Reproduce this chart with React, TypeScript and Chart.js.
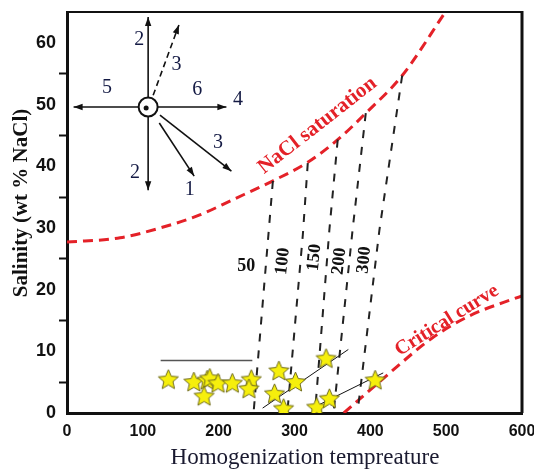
import React, { useEffect, useRef } from 'react';
import { Chart, registerables } from 'chart.js';
Chart.register(...registerables);

// Fluid inclusion data: homogenization temperature (°C) vs salinity (wt % NaCl)
const starT = [133.6, 167.3, 184.8, 188.3, 199.2, 218, 180.8, 243, 240, 279.4, 301.3, 273.7, 285.6, 341.7, 329.3, 346, 406.4];
const starS = [5.5, 5.1, 5.4, 5.7, 4.9, 4.9, 2.8, 5.5, 4.0, 6.9, 5.1, 3.2, 0.8, 8.9, 1.0, 2.4, 5.4];

// NaCl saturation curve
const naclT = [0, 70, 123, 175, 219, 271, 317, 357, 394, 442, 499];
const naclS = [27.7, 28.4, 30, 32.1, 34.6, 37.6, 40.6, 44.3, 48.6, 54.7, 65];

// Critical curve
const critT = [365, 420, 482, 530, 600];
const critS = [0, 5.9, 12.2, 15.7, 19];

// Isochores (bar)
const iso50T = [271.5, 246];
const iso50S = [37.6, 0];
const iso100T = [317.5, 311, 290.5];
const iso100S = [40.5, 28.9, 0];
const iso150T = [357, 346, 327];
const iso150S = [44.3, 29.7, 0];
const iso200T = [394, 376.6, 351.5];
const iso200S = [48.6, 29.7, 0];
const iso300T = [442, 412, 383];
const iso300S = [54.7, 29.7, 0];
const isoLabels = ['50', '100', '150', '200', '300'];
const isoLabelT = [236.5, 284.6, 326.3, 359.1, 392];
const isoLabelS = [23.8, 24.6, 25.2, 24.6, 24.8];
const isoLabelRot = [0, -84, -84, -84, -84];

// Horizontal reference line and trend lines
const hLineT = [123.5, 244.4];
const hLineS = [8.5, 8.5];
const trend1T = [258, 371];
const trend1S = [0.8, 10.3];
const trend2T = [322, 417];
const trend2S = [0.7, 6.5];

// Inset rose diagram (data coordinates)
const roseCenter = [107, 49.6];
const arrowX0 = [107, 107, 107, 107, 113.6, 121.7, 122.6];
const arrowY0 = [49.6, 49.6, 49.6, 49.6, 51.5, 47, 48.3];
const arrowX1 = [107, 107, 8.7, 210.2, 147.6, 167.7, 216.8];
const arrowY1 = [64.2, 36.1, 49.6, 49.6, 62.9, 38.4, 39.2];
const arrowDashed = [false, false, false, false, true, false, false];
const roseLabels = ['2', '3', '5', '6', '4', '3', '2', '1'];
const roseLabelT = [95.4, 144.5, 52.6, 171.6, 225.5, 199.2, 89.7, 162];
const roseLabelS = [60.5, 56.5, 52.8, 52.4, 50.8, 43.8, 38.9, 36.2];

const xTicks = [0, 100, 200, 300, 400, 500, 600];

const pts = (xs: number[], ys: number[]) => xs.map((x, i) => ({ x, y: ys[i] }));

function makeStar(r: number): HTMLCanvasElement {
  const c = document.createElement('canvas');
  const size = Math.ceil(2 * r + 4);
  c.width = size;
  c.height = size;
  const g = c.getContext('2d')!;
  const cx = size / 2, cy = size / 2 + 1;
  const ri = r * 0.46;
  g.beginPath();
  for (let i = 0; i < 10; i++) {
    const rr = i % 2 === 0 ? r : ri;
    const a = -Math.PI / 2 + (i * Math.PI) / 5;
    const px = cx + rr * Math.cos(a);
    const py = cy + rr * Math.sin(a);
    if (i === 0) g.moveTo(px, py); else g.lineTo(px, py);
  }
  g.closePath();
  g.fillStyle = '#f6ef0c';
  g.fill();
  g.lineWidth = 1;
  g.strokeStyle = '#6e6a1c';
  g.stroke();
  return c;
}

const RED = '#e42128';

const overlay = {
  id: 'overlay',
  afterDatasetsDraw(chart: any) {
    const ctx = chart.ctx;
    const xs = chart.scales.x, ys = chart.scales.y;
    const X = (v: number) => xs.getPixelForValue(v);
    const Y = (v: number) => ys.getPixelForValue(v);
    const area = chart.chartArea;
    ctx.save();

    // top & right frame
    ctx.strokeStyle = '#111';
    ctx.lineWidth = 2;
    ctx.beginPath();
    ctx.moveTo(area.left, area.top);
    ctx.lineTo(area.right, area.top);
    ctx.stroke();
    ctx.lineWidth = 3;
    ctx.beginPath();
    ctx.moveTo(area.right, area.top - 1);
    ctx.lineTo(area.right, area.bottom);
    ctx.stroke();

    // rose diagram
    ctx.strokeStyle = '#111';
    ctx.fillStyle = '#111';
    ctx.lineWidth = 1.6;
    for (let i = 0; i < arrowX0.length; i++) {
      const x0 = X(arrowX0[i]), y0 = Y(arrowY0[i]);
      const x1 = X(arrowX1[i]), y1 = Y(arrowY1[i]);
      ctx.setLineDash(arrowDashed[i] ? [6, 4] : []);
      ctx.beginPath();
      ctx.moveTo(x0, y0);
      ctx.lineTo(x1, y1);
      ctx.stroke();
      ctx.setLineDash([]);
      const ang = Math.atan2(y1 - y0, x1 - x0);
      const L = 9, W = 3.2;
      ctx.beginPath();
      ctx.moveTo(x1, y1);
      ctx.lineTo(x1 - L * Math.cos(ang) + W * Math.sin(ang), y1 - L * Math.sin(ang) - W * Math.cos(ang));
      ctx.lineTo(x1 - L * Math.cos(ang) - W * Math.sin(ang), y1 - L * Math.sin(ang) + W * Math.cos(ang));
      ctx.closePath();
      ctx.fill();
    }
    const cx = X(roseCenter[0]), cy = Y(roseCenter[1]);
    ctx.beginPath();
    ctx.arc(cx, cy, 9.5, 0, Math.PI * 2);
    ctx.fillStyle = '#fff';
    ctx.fill();
    ctx.lineWidth = 2;
    ctx.strokeStyle = '#111';
    ctx.stroke();
    ctx.beginPath();
    ctx.arc(cx - 2, cy + 1, 2.5, 0, Math.PI * 2);
    ctx.fillStyle = '#111';
    ctx.fill();

    ctx.font = '20px "Liberation Serif"';
    ctx.fillStyle = '#141a44';
    ctx.textAlign = 'center';
    ctx.textBaseline = 'middle';
    roseLabels.forEach((t, i) => ctx.fillText(t, X(roseLabelT[i]), Y(roseLabelS[i])));

    // isochore labels
    ctx.font = 'bold 18px "Liberation Serif"';
    ctx.fillStyle = '#111';
    isoLabels.forEach((t, i) => {
      ctx.save();
      ctx.translate(X(isoLabelT[i]), Y(isoLabelS[i]));
      ctx.rotate((isoLabelRot[i] * Math.PI) / 180);
      ctx.fillText(t, 0, 0);
      ctx.restore();
    });

    // curve labels
    ctx.fillStyle = RED;
    ctx.font = 'bold 21px "Liberation Serif"';
    ctx.save();
    ctx.translate(X(330.3), Y(46.6));
    ctx.rotate((-38 * Math.PI) / 180);
    ctx.fillText('NaCl saturation', 0, 0);
    ctx.restore();
    ctx.font = 'bold 20px "Liberation Serif"';
    ctx.save();
    ctx.translate(X(501), Y(15.0));
    ctx.rotate((-32 * Math.PI) / 180);
    ctx.fillText('Critical curve', 0, 0);
    ctx.restore();

    // axis titles
    ctx.fillStyle = '#111';
    ctx.font = 'bold 21px "Liberation Serif"';
    ctx.save();
    ctx.translate(22, 203);
    ctx.rotate(-Math.PI / 2);
    ctx.fillText('Salinity (wt % NaCl)', 0, 0);
    ctx.restore();
    ctx.fillStyle = '#1a1a30';
    ctx.font = '23px "Liberation Serif"';
    ctx.fillText('Homogenization tempreature', 305, 458);

    ctx.restore();
  },
};

export default function App() {
  const ref = useRef<HTMLCanvasElement>(null);
  useEffect(() => {
    const star = makeStar(10.5);
    const dashedRed = (d: any[]) => ({
      data: d, showLine: true, borderColor: RED, borderWidth: 3, borderDash: [10, 6],
      pointRadius: 0, tension: 0.4, cubicInterpolationMode: 'monotone', order: 3,
    });
    const dashedBlack = (d: any[]) => ({
      data: d, showLine: true, borderColor: '#222', borderWidth: 2, borderDash: [8, 9],
      pointRadius: 0, tension: 0, order: 2,
    });
    const thin = (d: any[], color: string, w: number) => ({
      data: d, showLine: true, borderColor: color, borderWidth: w, pointRadius: 0, order: 1,
    });
    const chart = new Chart(ref.current!, {
      type: 'scatter',
      data: {
        datasets: [
          {
            data: pts(starT, starS), pointStyle: star as any, pointRadius: 11,
            showLine: false, order: 0,
          } as any,
          dashedRed(pts(naclT, naclS)),
          dashedRed(pts(critT, critS)),
          dashedBlack(pts(iso50T, iso50S)),
          dashedBlack(pts(iso100T, iso100S)),
          dashedBlack(pts(iso150T, iso150S)),
          dashedBlack(pts(iso200T, iso200S)),
          dashedBlack(pts(iso300T, iso300S)),
          thin(pts(hLineT, hLineS), '#555', 1.5),
          thin(pts(trend1T, trend1S), '#111', 1),
          thin(pts(trend2T, trend2S), '#111', 1),
        ] as any,
      },
      options: {
        responsive: false,
        animation: false,
        layout: { padding: { left: 0, top: 12, right: 11, bottom: 0 } },
        plugins: { legend: { display: false }, tooltip: { enabled: false } },
        scales: {
          x: {
            type: 'linear', min: 0, max: 600,
            afterFit: (s: any) => { s.height = 57; s.paddingLeft = 0; s.paddingRight = 0; },
            afterBuildTicks: (s: any) => { s.ticks = xTicks.map((v) => ({ value: v })); },
            ticks: { color: '#111', font: { family: 'Liberation Sans', weight: 'bold', size: 16 }, padding: 9, maxRotation: 0 },
            grid: { display: true, drawOnChartArea: false, drawTicks: false },
            border: { display: true, color: '#111', width: 3 },
          },
          y: {
            type: 'linear', min: 0, max: 65,
            afterFit: (s: any) => { s.width = 67; s.paddingTop = 0; s.paddingBottom = 0; },
            ticks: {
              stepSize: 5, color: '#111', padding: 3,
              font: { family: 'Liberation Sans', weight: 'bold', size: 18 },
              callback: (v: any) => (v % 10 === 0 ? String(v) : ''),
            },
            grid: {
              drawOnChartArea: false, drawTicks: true, tickLength: 8, tickWidth: 2,
              tickColor: (c: any) => (c.tick && c.tick.value % 10 === 5 && c.tick.value < 65 ? '#111' : 'rgba(0,0,0,0)'),
            },
            border: { display: true, color: '#111', width: 3 },
          },
        },
      } as any,
      plugins: [overlay],
    });
    return () => chart.destroy();
  }, []);
  return (
    <div style={{ position: 'fixed', left: 0, top: 0, width: 534, height: 470, background: '#fff' }}>
      <canvas ref={ref} width={534} height={470} style={{ display: 'block' }} />
    </div>
  );
}
